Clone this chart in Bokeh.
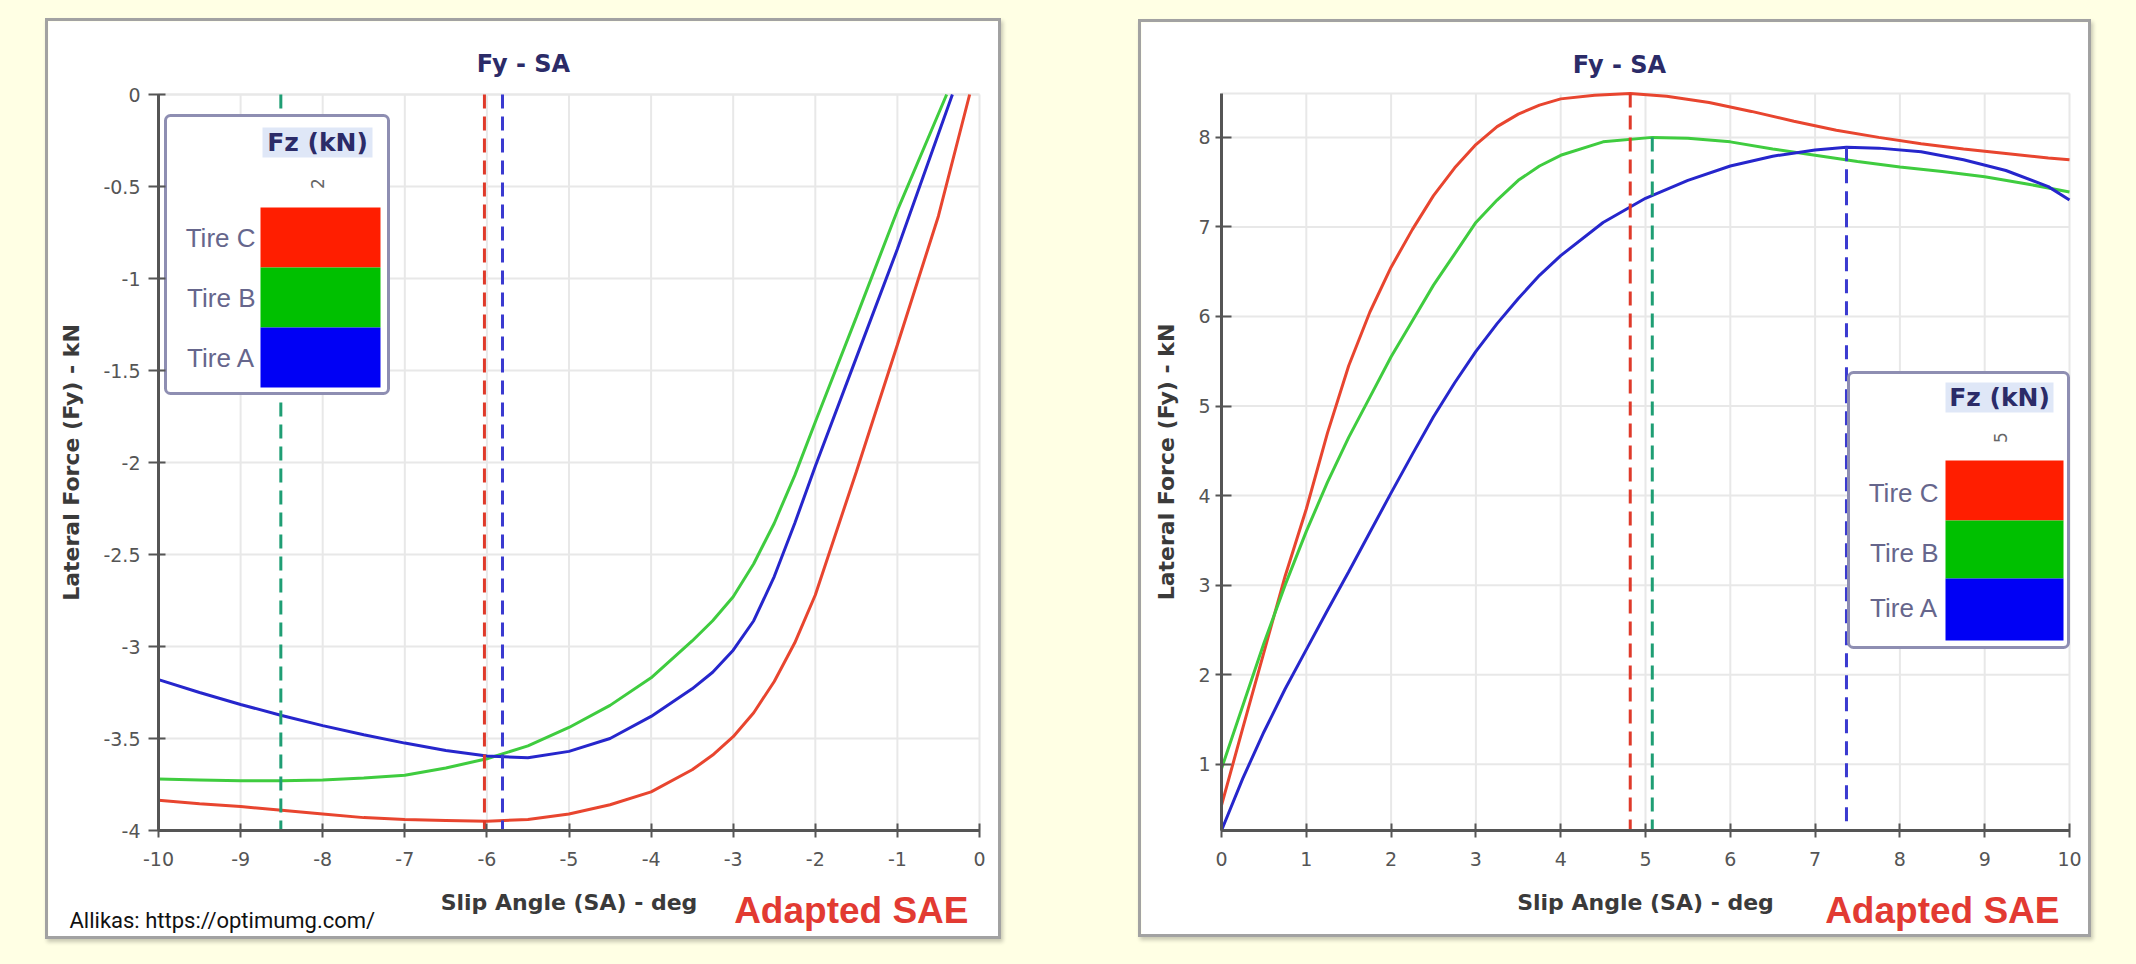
from bokeh.plotting import figure
from bokeh.layouts import row
from bokeh.models import Range1d, FixedTicker, Label, CustomJSTickFormatter
from bokeh.embed import file_html
from bokeh.resources import INLINE
from bokeh.core.properties import value

# ---------------- negative slip sweep (left panel) ----------------
tire_a_neg_sa = [-10, -9.5, -9, -8.5, -8, -7.5, -7, -6.5, -6, -5.5, -5, -4.5, -4, -3.5, -3.25, -3, -2.75, -2.5,
                 -2.25, -2, -1.5, -1, -0.33]
tire_a_neg_fy = [-3.18, -3.25, -3.315, -3.375, -3.43, -3.48, -3.525, -3.565, -3.595, -3.605, -3.57, -3.50, -3.38,
                 -3.23, -3.14, -3.02, -2.86, -2.62, -2.33, -2.02, -1.43, -0.84, 0.0]

tire_b_neg_sa = [-10, -9.5, -9, -8.5, -8, -7.5, -7, -6.5, -6, -5.5, -5, -4.5, -4, -3.5, -3.25, -3, -2.75, -2.5,
                 -2.25, -2, -1.5, -1, -0.4]
tire_b_neg_fy = [-3.72, -3.725, -3.73, -3.73, -3.725, -3.715, -3.70, -3.66, -3.61, -3.54, -3.44, -3.32, -3.17,
                 -2.97, -2.86, -2.73, -2.55, -2.33, -2.07, -1.78, -1.21, -0.63, 0.0]

tire_c_neg_sa = [-10, -9.5, -9, -8.5, -8, -7.5, -7, -6.5, -6, -5.5, -5, -4.5, -4, -3.5, -3.25, -3, -2.75, -2.5,
                 -2.25, -2, -1.5, -1, -0.5, -0.12]
tire_c_neg_fy = [-3.836, -3.855, -3.87, -3.89, -3.91, -3.93, -3.94, -3.945, -3.95, -3.94, -3.91, -3.86, -3.79,
                 -3.67, -3.59, -3.49, -3.36, -3.19, -2.98, -2.72, -2.05, -1.36, -0.66, 0.0]

# slip angle of peak force, negative side
neg_peak_sa = [-6.03, -8.51, -5.81]      # Tire C, Tire B, Tire A

# ---------------- positive slip sweep (right panel) ----------------
tire_c_pos_sa = [0, 0.25, 0.5, 0.75, 1.0, 1.25, 1.5, 1.75, 2.0, 2.25, 2.5, 2.75, 3.0, 3.25, 3.5, 3.75, 4.0,
                 4.4, 4.82, 5.25, 5.75, 6.25, 6.75, 7.25, 7.75, 8.25, 8.75, 9.25, 9.75, 10]
tire_c_pos_fy = [0.54, 1.4, 2.25, 3.1, 3.85, 4.7, 5.45, 6.05, 6.55, 6.97, 7.35, 7.66, 7.92, 8.12, 8.26, 8.36, 8.43,
                 8.47, 8.49, 8.46, 8.39, 8.29, 8.18, 8.08, 8.0, 7.93, 7.87, 7.82, 7.77, 7.75]

tire_b_pos_sa = [0, 0.25, 0.5, 0.75, 1.0, 1.25, 1.5, 1.75, 2.0, 2.25, 2.5, 2.75, 3.0, 3.25, 3.5, 3.75, 4.0,
                 4.5, 5.08, 5.5, 6.0, 6.5, 7.0, 7.5, 8.0, 8.5, 9.0, 9.5, 10]
tire_b_pos_fy = [0.95, 1.65, 2.35, 3.0, 3.6, 4.15, 4.65, 5.1, 5.55, 5.95, 6.35, 6.7, 7.05, 7.3, 7.52, 7.68, 7.8,
                 7.95, 8.0, 7.99, 7.95, 7.87, 7.8, 7.73, 7.67, 7.62, 7.56, 7.48, 7.39]

tire_a_pos_sa = [0, 0.25, 0.5, 0.75, 1.0, 1.25, 1.5, 1.75, 2.0, 2.25, 2.5, 2.75, 3.0, 3.25, 3.5, 3.75, 4.0,
                 4.5, 5.0, 5.5, 6.0, 6.5, 7.0, 7.37, 7.75, 8.25, 8.75, 9.25, 9.75, 10]
tire_a_pos_fy = [0.26, 0.84, 1.36, 1.84, 2.28, 2.72, 3.15, 3.59, 4.03, 4.46, 4.88, 5.26, 5.61, 5.92, 6.2, 6.46, 6.68,
                 7.05, 7.32, 7.52, 7.68, 7.79, 7.86, 7.89, 7.88, 7.84, 7.75, 7.63, 7.45, 7.30]

# slip angle and value of peak force, positive side
pos_peak_sa = [4.82, 5.08, 7.37]         # Tire C, Tire B, Tire A
pos_peak_fy = [8.49, 8.00, 7.89]

tire_names = ["Tire C", "Tire B", "Tire A"]
neg_ticks_x = [-10, -9, -8, -7, -6, -5, -4, -3, -2, -1, 0]
neg_ticks_y = [0, -0.5, -1, -1.5, -2, -2.5, -3, -3.5, -4]
pos_ticks_x = [0, 1, 2, 3, 4, 5, 6, 7, 8, 9, 10]
pos_ticks_y = [1, 2, 3, 4, 5, 6, 7, 8]
fz_left = "2"
fz_right = "5"

CURVE = ["#e8452f", "#3fcc3f", "#2626cc"]      # C, B, A
SWATCH = ["#ff1e00", "#00c000", "#0000f5"]
DASH = ["#df3a2a", "#1f9e74", "#3a3ad0"]

AXIS_GREY = "#555555"
LABEL_GREY = "#3a3a3a"
NAVY = "#2b2b68"
GRID = "#e8e8e8"
BORDER = 3


def panel(width, height, plot_px, xlim, ylim, xticks, yticks):
    """Card-sized figure (width/height include the card border) whose frame
    fills the card; the axes sit at fixed data locations so the captions
    around the plot area stay inside the frame."""
    pl, pt, pr, pb = plot_px                      # plot-area edges in canvas pixels
    sx = (pr - pl) / (xlim[1] - xlim[0])
    sy = (pb - pt) / (ylim[1] - ylim[0])
    xr = (xlim[0] - pl / sx, xlim[1] + (width - pr) / sx)
    yr = (ylim[0] - (height - pb) / sy, ylim[1] + pt / sy)
    p = figure(width=width, height=height,
               x_range=Range1d(*xr), y_range=Range1d(*yr),
               output_backend="svg", toolbar_location=None,
               min_border=0, min_border_left=0, min_border_right=0,
               min_border_top=0, min_border_bottom=0,
               background_fill_color="white", border_fill_color="white",
               outline_line_color=None,
               styles={"border": f"{BORDER}px solid #a2a2a2",
                       "box-shadow": "2px 3px 4px rgba(0,0,0,0.22)"})
    p.title.visible = False
    p.grid.visible = False

    # grid restricted to the plot area
    p.segment(x0=xticks, x1=xticks, y0=[ylim[0]] * len(xticks), y1=[ylim[1]] * len(xticks),
              line_color=GRID, line_width=2)
    p.segment(x0=[xlim[0]] * len(yticks), x1=[xlim[1]] * len(yticks), y0=yticks, y1=yticks,
              line_color=GRID, line_width=2)
    p.segment(x0=[xlim[0]], x1=[xlim[1]], y0=[ylim[1]], y1=[ylim[1]], line_color=GRID, line_width=2)

    fmt = CustomJSTickFormatter(code="return tick.toString()")
    xa, ya = p.xaxis[0], p.yaxis[0]
    xa.fixed_location = ylim[0]
    xa.bounds = xlim
    ya.fixed_location = xlim[0]
    ya.bounds = ylim
    for ax, ticks in ((xa, xticks), (ya, yticks)):
        ax.ticker = FixedTicker(ticks=ticks)
        ax.formatter = fmt
        ax.minor_tick_line_color = None
        ax.axis_line_color = AXIS_GREY
        ax.axis_line_width = 3
        ax.major_tick_line_color = AXIS_GREY
        ax.major_tick_line_width = 2
        ax.major_label_text_font = "DejaVu Sans"
        ax.major_label_text_font_size = "19px"
        ax.major_label_text_color = AXIS_GREY
        ax.axis_label_text_font = "DejaVu Sans"
        ax.axis_label_text_font_style = "bold"
        ax.axis_label_text_font_size = "22px"
        ax.axis_label_text_color = LABEL_GREY
    xa.major_tick_in = 7
    xa.major_tick_out = 7
    xa.major_label_standoff = 14
    xa.axis_label = "Slip Angle (SA) - deg"
    xa.axis_label_standoff = 21
    ya.axis_label = "Lateral Force (Fy) - kN"

    def at(px, py):
        return xr[0] + px / sx, yr[1] - py / sy
    return p, at


def legend(p, at, box, sw_x, sw_y, lab_right, lab_y, head, head_bg, fz_pos, fz_text):
    bl, bt = at(box[0], box[1])
    br, bb = at(box[2], box[3])
    p.quad(left=[bl], right=[br], top=[bt], bottom=[bb], fill_color="white",
           line_color="#8e8eb2", line_width=3, border_radius=5)
    hl, ht = at(head_bg[0], head_bg[1])
    hr, hb = at(head_bg[2], head_bg[3])
    p.quad(left=[hl], right=[hr], top=[ht], bottom=[hb], fill_color="#dfe7f7", line_color=None)
    sl, _ = at(sw_x[0], 0)
    sr, _ = at(sw_x[1], 0)
    edges = [at(0, v)[1] for v in sw_y]
    p.quad(left=[sl] * 3, right=[sr] * 3, top=edges[:3], bottom=edges[1:], fill_color=SWATCH, line_color=None)
    lx, _ = at(lab_right, 0)
    ly = [at(0, v)[1] for v in lab_y]
    p.text(x=[lx] * 3, y=ly, text=tire_names, text_align="right", text_baseline="middle",
           text_font=value("Liberation Sans"), text_font_size=value("26px"), text_color="#66668c")
    hx, hy = at(*head)
    p.text(x=[hx], y=[hy], text=["Fz (kN)"], text_align="center", text_baseline="middle",
           text_font=value("DejaVu Sans"), text_font_style="bold", text_font_size=value("25px"),
           text_color=NAVY)
    fx, fy = at(*fz_pos)
    p.text(x=[fx], y=[fy], text=[fz_text], angle=1.5708, text_align="center", text_baseline="middle",
           text_font=value("DejaVu Sans"), text_font_size=value("17px"), text_color="#666666")


def caption(p, at, px, py, text, align, baseline, font, size, color, style="normal"):
    x, y = at(px, py)
    p.add_layout(Label(x=x, y=y, text=text, text_align=align, text_baseline=baseline,
                       text_font=font, text_font_size=size, text_font_style=style,
                       text_color=color))


# ---------------- left panel: negative slip ----------------
left, at_l = panel(956, 921, (110, 73, 931, 809), (-10, 0), (-4, 0), neg_ticks_x, neg_ticks_y)
left.margin = (18, 0, 0, 45)
left.yaxis.major_tick_in = 7
left.yaxis.major_tick_out = 10
left.yaxis.major_label_standoff = 8
left.yaxis.axis_label_standoff = 16

for sa, fy, c in ((tire_c_neg_sa, tire_c_neg_fy, CURVE[0]),
                  (tire_b_neg_sa, tire_b_neg_fy, CURVE[1]),
                  (tire_a_neg_sa, tire_a_neg_fy, CURVE[2])):
    left.line(sa, fy, line_color=c, line_width=3)
left.segment(x0=neg_peak_sa, x1=neg_peak_sa, y0=[0] * 3, y1=[-4] * 3, line_color=DASH,
             line_width=3, line_dash="14 8")
legend(left, at_l, (117, 94, 340, 372), (212, 332), (186, 246, 306, 366), 207, (216, 276, 336),
       (269, 121), (214, 106, 324, 136), (269, 162), fz_left)

caption(left, at_l, 475, 42, "Fy - SA", "center", "middle", "DejaVu Sans", "24px", NAVY, "bold")
caption(left, at_l, 920, 889, "Adapted SAE", "right", "alphabetic", "Liberation Sans", "37px",
        "#e23a32", "bold")
caption(left, at_l, 21, 899, "Allikas: https://optimumg.com/", "left", "alphabetic",
        "Roboto", "22px", "#111111")

# ---------------- right panel: positive slip ----------------
right, at_r = panel(953, 918, (80, 71, 928, 808), (0, 10), (0.26, 8.49), pos_ticks_x, pos_ticks_y)
right.margin = (19, 0, 0, 137)
right.yaxis.major_tick_in = 10
right.yaxis.major_tick_out = 6
right.yaxis.major_label_standoff = 5
right.yaxis.axis_label_standoff = 16

for sa, fy, c in ((tire_c_pos_sa, tire_c_pos_fy, CURVE[0]),
                  (tire_b_pos_sa, tire_b_pos_fy, CURVE[1]),
                  (tire_a_pos_sa, tire_a_pos_fy, CURVE[2])):
    right.line(sa, fy, line_color=c, line_width=3)
right.segment(x0=pos_peak_sa, x1=pos_peak_sa, y0=pos_peak_fy, y1=[0.26] * 3, line_color=DASH,
              line_width=3, line_dash="14 8")
legend(right, at_r, (707, 350, 927, 625), (804, 922), (438, 498, 556, 618), 797, (470, 530, 585),
       (858, 375), (804, 360, 912, 390), (859, 415), fz_right)

caption(right, at_r, 478, 42, "Fy - SA", "center", "middle", "DejaVu Sans", "24px", NAVY, "bold")
caption(right, at_r, 918, 888, "Adapted SAE", "right", "alphabetic", "Liberation Sans", "37px",
        "#e23a32", "bold")

page = row(left, right, width=2136, height=964,
           styles={"background-color": "#ffffe4"})

open("out.html", "w").write(file_html(page, INLINE))
